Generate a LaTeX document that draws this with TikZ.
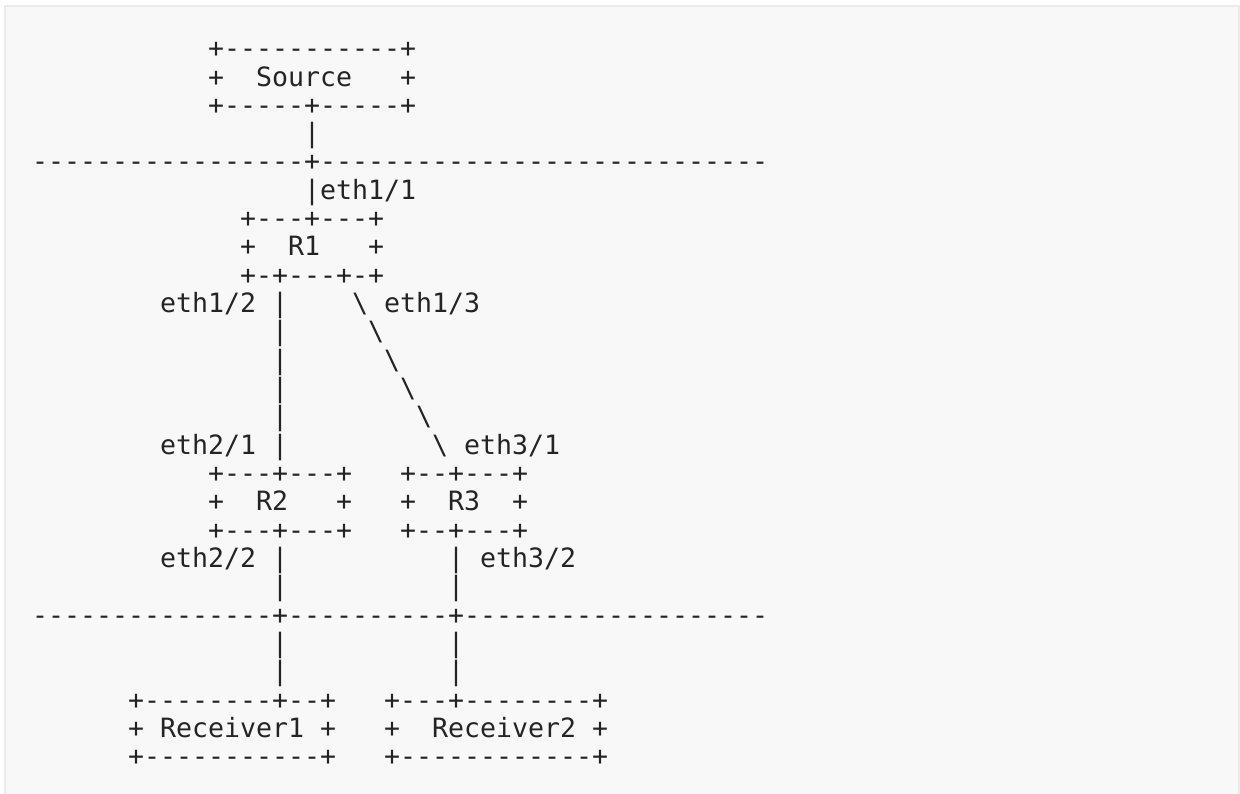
\documentclass[tikz,border=0pt]{standalone}
\usepackage{fontspec}
\setmonofont{DejaVu Sans Mono}
\definecolor{panelfill}{HTML}{F8F8F8}
\definecolor{panelline}{HTML}{EBEBEB}
\definecolor{ink}{HTML}{242424}
\tikzset{
  ascii/.style={anchor=base west, inner sep=0pt, outer sep=0pt, text=ink,
    font=\ttfamily\fontsize{26.58pt}{28pt}\selectfont}
}
\newcommand{\Ln}[4]{\node[ascii] (#1) at ({32+16*#3},{57.7+28.32*(#2-1)}) {#4};}
\newcommand{\bs}{\textbackslash}
\begin{document}
\begin{tikzpicture}[x=1pt,y=-1pt]
\useasboundingbox (0,0) rectangle (1240,793);
\fill[panelfill] (5,6) rectangle (1239,800);
\draw[panelline, line width=2.5pt] (5,800) -- (5,6) -- (1239,6) -- (1239,800);
\Ln{l1}{1}{11}{+-----------+}
\Ln{l2}{2}{11}{+~~Source~~~+}
\Ln{l3}{3}{11}{+-----+-----+}
\Ln{l4}{4}{17}{|}
\Ln{l5}{5}{0}{-----------------+----------------------------}
\Ln{l6}{6}{17}{|eth1/1}
\Ln{l7}{7}{13}{+---+---+}
\Ln{l8}{8}{13}{+~~R1~~~+}
\Ln{l9}{9}{13}{+-+---+-+}
\Ln{l10}{10}{8}{eth1/2~|~~~~\bs~eth1/3}
\Ln{l11}{11}{15}{|~~~~~\bs}
\Ln{l12}{12}{15}{|~~~~~~\bs}
\Ln{l13}{13}{15}{|~~~~~~~\bs}
\Ln{l14}{14}{15}{|~~~~~~~~\bs}
\Ln{l15}{15}{8}{eth2/1~|~~~~~~~~~\bs~eth3/1}
\Ln{l16}{16}{11}{+---+---+~~~+--+---+}
\Ln{l17}{17}{11}{+~~R2~~~+~~~+~~R3~~+}
\Ln{l18}{18}{11}{+---+---+~~~+--+---+}
\Ln{l19}{19}{8}{eth2/2~|~~~~~~~~~~|~eth3/2}
\Ln{l20}{20}{15}{|~~~~~~~~~~|}
\Ln{l21}{21}{0}{---------------+----------+-------------------}
\Ln{l22}{22}{15}{|~~~~~~~~~~|}
\Ln{l23}{23}{15}{|~~~~~~~~~~|}
\Ln{l24}{24}{6}{+--------+--+~~~+---+--------+}
\Ln{l25}{25}{6}{+~Receiver1~+~~~+~~Receiver2~+}
\Ln{l26}{26}{6}{+-----------+~~~+------------+}
\end{tikzpicture}
\end{document}
